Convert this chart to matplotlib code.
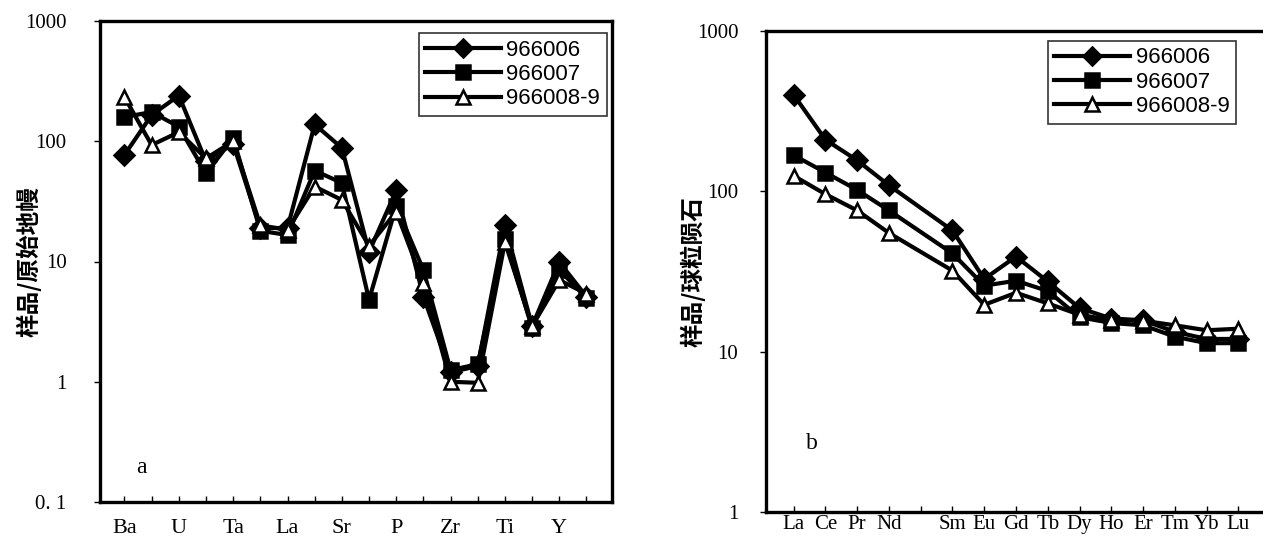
import numpy as np
import matplotlib
matplotlib.use("Agg")
import matplotlib.pyplot as plt

# 原始地幔标准化蛛网图 (a) 的元素, 只标注隔一个的名称
elem_pm = ["Ba", "Th", "U", "K", "Ta", "Nb", "La", "Ce", "Sr",
           "Nd", "P", "Sm", "Zr", "Hf", "Ti", "Tb", "Y", "Yb"]
pm_966006 = [77, 165, 240, 68, 95, 19, 19, 138, 88,
             12, 39, 5.1, 1.2, 1.35, 20, 2.9, 9.9, 5.1]
pm_966007 = [159, 175, 132, 54, 106, 18, 16.6, 57, 45,
             4.8, 29, 8.5, 1.25, 1.4, 15.5, 2.8, 8.5, 5.0]
pm_9660089 = [233, 93, 119, 72, 100, 20, 18.3, 42, 32.5,
              13.5, 26, 6.6, 1.0, 0.98, 14.5, 2.9, 7.0, 5.4]

# 球粒陨石标准化稀土配分 (b), Pm 位置留空
elem_ree = ["La", "Ce", "Pr", "Nd", "", "Sm", "Eu", "Gd", "Tb",
            "Dy", "Ho", "Er", "Tm", "Yb", "Lu"]
ree_x = [0, 1, 2, 3, 5, 6, 7, 8, 9, 10, 11, 12, 13, 14]
ree_966006 = [400, 210, 156, 109, 57, 28.4, 39.2, 27.4, 18.7, 16.1, 15.7, 13.3, 12, 12]
ree_966007 = [168, 131, 102, 76, 41, 25.8, 27.7, 23.9, 16.4, 15.1, 14.6, 12.4, 11.3, 11.3]
ree_9660089 = [125, 96, 76, 55, 32, 19.6, 23.3, 20, 17, 15.7, 15.6, 14.6, 13.6, 13.9]

names = ["966006", "966007", "966008-9"]

serif = "Liberation Serif"
cjk = ["Noto Sans CJK SC", "DejaVu Sans"]

fig = plt.figure(figsize=(12.63, 5.43), dpi=100)
W, H = 1263, 543


def box(l, r, t, b):
    return [l / W, (H - b) / H, (r - l) / W, (b - t) / H]


def style(ax, yticks, ylabels, ypad, xpad):
    ax.set_yscale("log")
    ax.set_yticks(yticks)
    ax.set_yticklabels(ylabels, fontfamily=serif, fontsize=15)
    ax.yaxis.set_minor_locator(matplotlib.ticker.NullLocator())
    ax.tick_params(axis="y", direction="out", length=4, width=1, pad=ypad)
    ax.tick_params(axis="x", direction="in", length=4, width=1, pad=xpad)
    for s in ax.spines.values():
        s.set_linewidth(2.4)


def draw(ax, x, series):
    kw = dict(color="black", lw=3, markeredgewidth=1.8, markersize=10.5)
    for vals, m, fc, lab in zip(series, ["D", "s", "^"],
                                ["black", "black", "white"], names):
        ax.plot(x, vals, marker=m, markerfacecolor=fc,
                markeredgecolor="black", label=lab, **kw)


def legend(ax, anchor):
    leg = ax.legend(loc="upper right", bbox_to_anchor=anchor,
                    prop={"family": "Liberation Sans", "size": 16},
                    fancybox=False, edgecolor="black", handlelength=3.4,
                    borderpad=0.3, labelspacing=0.15, handletextpad=0.25,
                    borderaxespad=0, markerscale=0.9)
    leg.get_frame().set_linewidth(1.2)


# ---- a ----
ax1 = fig.add_axes(box(100, 612, 21, 502))
draw(ax1, np.arange(len(elem_pm)), [pm_966006, pm_966007, pm_9660089])
style(ax1, [0.1, 1, 10, 100, 1000], ["0. 1", "1", "10", "100", "1000"], 20, 12)
ax1.set_ylim(0.1, 1000)
ax1.set_xlim(-0.9, 17.94)
ax1.set_xticks(np.arange(len(elem_pm)))
ax1.set_xticklabels([e if i % 2 == 0 else "" for i, e in enumerate(elem_pm)],
                    fontfamily=serif, fontsize=16)
ax1.set_ylabel("样品/原始地幔", fontfamily=cjk, fontsize=17, fontweight="bold")
ax1.yaxis.set_label_coords(-0.115, 0.5)
ax1.text(0.07, 0.06, "a", transform=ax1.transAxes, fontfamily=serif, fontsize=17)
legend(ax1, (0.99, 0.975))

# ---- b ----
ax2 = fig.add_axes(box(766, 1266, 31, 512))
draw(ax2, ree_x, [ree_966006, ree_966007, ree_9660089])
style(ax2, [1, 10, 100, 1000], ["1", "10", "100", "1000"], 16, 2)
ax2.set_ylim(1, 1000)
ax2.set_xlim(-0.87, 14.87)
ax2.set_xticks(np.arange(len(elem_ree)))
ax2.set_xticklabels(elem_ree, fontfamily=serif, fontsize=15)
ax2.set_ylabel("样品/球粒陨石", fontfamily=cjk, fontsize=17, fontweight="bold")
ax2.yaxis.set_label_coords(-0.12, 0.5)
ax2.text(0.08, 0.13, "b", transform=ax2.transAxes, fontfamily=serif, fontsize=17)
legend(ax2, (0.94, 0.98))

fig.savefig("out.png", dpi=100)
